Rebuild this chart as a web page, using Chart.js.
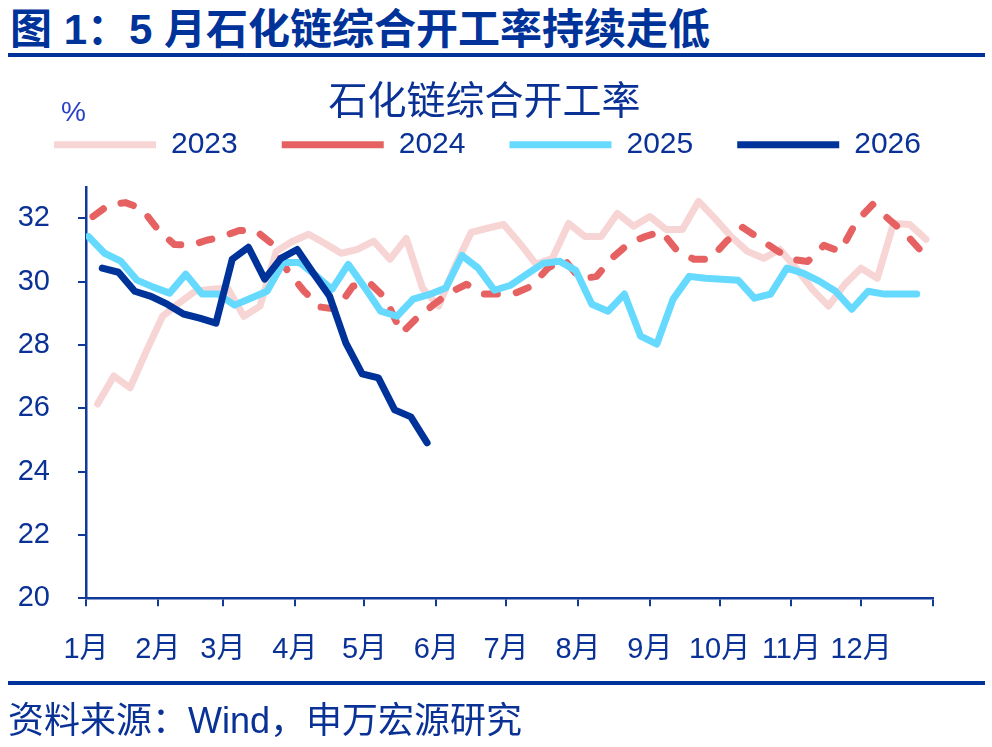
<!DOCTYPE html>
<html>
<head>
<meta charset="utf-8">
<script src="https://cdn.jsdelivr.net/npm/chart.js@4.4.1/dist/chart.umd.min.js"></script>
<style>
  html, body { margin: 0; padding: 0; background: #ffffff; width: 992px; height: 747px; overflow: hidden; }
  #wrap { position: relative; width: 992px; height: 747px; }
  #c { position: absolute; left: 0; top: 0; }
  .hdr { position: absolute; left: 10px; top: 5px; font: bold 42px "Liberation Sans", "Noto Sans CJK SC", sans-serif; color: #003399; white-space: nowrap; line-height: 50px; }
  .rule { position: absolute; left: 8px; width: 977px; background: #003399; }
  .pct { position: absolute; left: 61px; top: 95px; font: 28px "Liberation Sans", "Noto Sans CJK SC", sans-serif; color: #2a40c8; line-height: 34px; }
  .src { position: absolute; left: 8px; top: 700px; font: 36px "Liberation Sans", "Noto Sans CJK SC", sans-serif; color: #0a3296; line-height: 42px; white-space: nowrap; }
</style>
</head>
<body>
<div id="wrap">
  <div class="hdr">图 1：5 月石化链综合开工率持续走低</div>
  <div class="rule" style="top:53px;height:4px;"></div>
  <canvas id="c" width="992" height="747"></canvas>
  <div class="pct">%</div>
  <div class="rule" style="top:681px;height:4px;"></div>
  <div class="src">资料来源：Wind，申万宏源研究</div>
</div>
<script>
// ---- data ----
const months = ['1月','2月','3月','4月','5月','6月','7月','8月','9月','10月','11月','12月'];
const monthStartDays = [0,31,59,90,120,151,181,212,243,273,304,334,365];
const seriesNames = ['2023','2024','2025','2026'];
// day-of-year of the first weekly observation of each year
const firstDays = [5, 3, 1, 7];
const v2023 = [26.14,27.02,26.65,27.81,28.91,29.32,29.70,29.76,29.80,28.91,
               29.23,30.96,31.28,31.50,31.21,30.90,31.02,31.28,30.71,31.37,
               29.80,29.23,30.49,31.56,31.69,31.81,31.21,30.55,30.74,31.84,
               31.43,31.43,32.16,31.75,32.06,31.65,31.65,32.54,32.00,31.43,
               30.96,30.74,31.02,30.43,29.76,29.23,29.92,30.43,30.11,31.84,
               31.81,31.34];
const v2024 = [32.06,32.44,32.50,32.31,31.65,31.18,31.15,31.31,31.43,31.62,
               31.62,31.21,30.33,29.70,29.20,29.13,29.86,29.98,29.48,28.38,
               28.88,29.29,29.67,29.92,29.61,29.61,29.64,29.86,30.43,30.71,
               30.08,30.17,30.77,31.21,31.43,31.59,30.96,30.71,30.71,31.28,
               31.72,31.37,31.02,30.71,30.64,31.15,30.96,31.90,32.44,31.97,
               31.53,30.96];
const v2025 = [31.43,30.90,30.65,30.05,29.83,29.64,30.24,29.61,29.61,29.26,
               29.48,29.70,30.61,30.61,30.20,29.76,30.55,29.83,29.07,28.91,
               29.45,29.60,29.80,30.83,30.43,29.73,29.89,30.24,30.58,30.65,
               30.36,29.29,29.07,29.61,28.28,28.03,29.45,30.17,30.11,30.08,
               30.05,29.48,29.61,30.43,30.27,30.02,29.70,29.13,29.70,29.61,
               29.61,29.61];
const v2026 = [30.43,30.30,29.70,29.54,29.29,28.98,28.85,28.69,30.71,31.09,
               30.08,30.74,31.02,30.27,29.54,28.06,27.09,26.96,25.95,25.73,
               24.91];
const yTicks = [20,22,24,26,28,30,32];

// ---- style ----
const FONT = '"Liberation Sans", Arial, "Noto Sans CJK SC", sans-serif';
const TXT = '#0a3296';
const AX = '#103a9a';
const colors = ['#f8d5d5', '#e66262', '#66d9ff', '#003399'];
const LEGEND_H = 101;
const TITLE_SHIFT = 13;

const allValues = [v2023, v2024, v2025, v2026];
const datasets = allValues.map((vals, k) => ({
  label: seriesNames[k],
  data: vals.map((v, i) => ({ x: firstDays[k] + 7 * i, y: v })),
  borderColor: colors[k],
  backgroundColor: colors[k],
  borderWidth: 7,
  borderDash: k === 1 ? [13, 19] : [],
  borderCapStyle: 'round',
  borderJoinStyle: 'round',
  pointRadius: 0,
  pointHoverRadius: 0,
  tension: 0,
  fill: false,
  order: 4 - k
}));

const boxTweaks = {
  id: 'boxTweaks',
  afterInit(chart) {
    const lg = chart.legend;
    if (lg) {
      const origFit = lg.fit;
      lg.fit = function () {
        const mw = this.maxWidth;
        this.maxWidth = 5000;
        origFit.call(this);
        this.maxWidth = mw;
        this.width = mw;
        this.height = LEGEND_H;
      };
      const origDraw = lg.draw;
      lg.draw = function (area) {
        const r = this.right;
        this.right = 5000;
        origDraw.call(this, area);
        this.right = r;
      };
    }
    const tb = chart.titleBlock;
    if (tb) {
      const origTDraw = tb.draw;
      tb.draw = function (area) {
        this.left += TITLE_SHIFT; this.right += TITLE_SHIFT;
        origTDraw.call(this, area);
        this.left -= TITLE_SHIFT; this.right -= TITLE_SHIFT;
      };
    }
  }
};

new Chart(document.getElementById('c'), {
  type: 'line',
  data: { datasets },
  plugins: [boxTweaks],
  options: {
    responsive: false,
    animation: false,
    events: [],
    layout: { padding: { top: 60, left: 10, right: 59, bottom: 54 } },
    plugins: {
      title: {
        display: true,
        text: '石化链综合开工率',
        color: TXT,
        font: { family: FONT, size: 39, weight: 'normal', lineHeight: 1.2 },
        padding: { top: 20, bottom: -41 }
      },
      legend: {
        display: true,
        position: 'top',
        align: 'start',
        labels: {
          usePointStyle: true,
          pointStyle: 'line',
          pointStyleWidth: 102,
          padding: 44,
          color: TXT,
          font: { family: FONT, size: 30 },
          sort: (a, b) => a.datasetIndex - b.datasetIndex
        }
      },
      tooltip: { enabled: false }
    },
    scales: {
      x: {
        type: 'linear',
        min: monthStartDays[0],
        max: monthStartDays[monthStartDays.length - 1],
        afterBuildTicks: (s) => { s.ticks = monthStartDays.map(v => ({ value: v })); },
        ticks: {
          autoSkip: false,
          maxRotation: 0,
          minRotation: 0,
          padding: 26,
          color: TXT,
          font: { family: FONT, size: 29 },
          callback: (v) => { const i = monthStartDays.indexOf(v); return (i >= 0 && i < months.length) ? months[i] : ''; }
        },
        grid: { drawOnChartArea: false, drawTicks: true, tickLength: 8, color: AX, lineWidth: 2 },
        border: { display: true, color: AX, width: 2.5 }
      },
      y: {
        min: 20,
        max: 33,
        afterBuildTicks: (s) => { s.ticks = yTicks.map(v => ({ value: v })); },
        afterFit: (s) => { s.width = 76; },
        ticks: {
          padding: 28,
          color: TXT,
          font: { family: FONT, size: 29 },
          callback: (v) => String(v)
        },
        grid: { drawOnChartArea: false, drawTicks: true, tickLength: 8, color: AX, lineWidth: 2 },
        border: { display: true, color: AX, width: 2.5 }
      }
    }
  }
});
</script>
</body>
</html>
